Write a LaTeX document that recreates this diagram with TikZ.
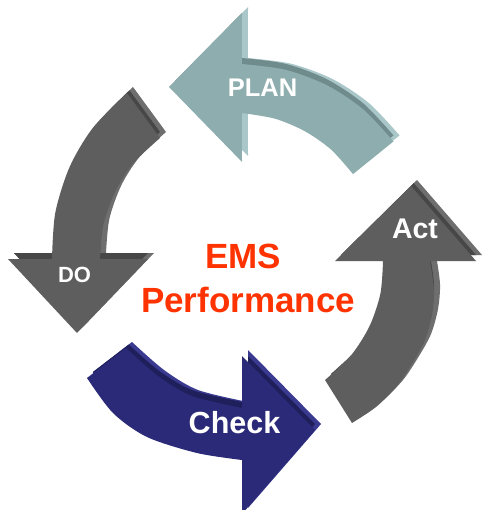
\documentclass[tikz,border=0pt]{standalone}
\usepackage{fontspec}
\setmainfont{Liberation Sans}
\definecolor{planface}{HTML}{8EADAE}
\definecolor{planlight}{HTML}{A9C6C8}
\definecolor{plandark}{HTML}{6F8B8C}
\definecolor{grayface}{HTML}{5E5E5E}
\definecolor{graylight}{HTML}{6E6E6E}
\definecolor{graydark}{HTML}{474747}
\definecolor{checkface}{HTML}{2A2A78}
\definecolor{checklight}{HTML}{3A3A90}
\definecolor{checkdark}{HTML}{1F1F5C}
\definecolor{emsred}{HTML}{FF3300}
\def\PlanPath{(169,87) -- (242,13) -- plot[smooth] coordinates {(241.9,64.0) (285.4,69.8) (326.6,85.1) (362.9,109.1) (393.5,141.4)} -- plot[smooth] coordinates {(353,174.1) (331.2,149.7) (305,131.3) (275,118.7) (241.9,113)} -- (242,162) -- cycle}
\def\DoPath{(77,333) -- (8,259) -- plot[smooth] coordinates {(52,259) (55.3,212.7) (69.7,166.8) (92.9,127.8) (127,93)} -- plot[smooth] coordinates {(160,138) (133.5,163) (115.4,191.1) (103.4,224.7) (100,259)} -- (148,259) -- cycle}
\def\CheckPath{(87,378) -- plot[smooth] coordinates {(126,348) (158,376) (192,396) (242,408)} -- (242,356) -- (315,430) -- (242,514) -- plot[smooth] coordinates {(242,460) (197,453) (147,437) (113,413) (87,378)} -- cycle}
\def\ActPath{(335,261) -- (411,186) -- (476,261) -- plot[smooth] coordinates {(430,261) (434,290) (432,315) (425,340) (413,362) (397,386) (376,407) (352,423)} -- plot[smooth] coordinates {(325,380) (351,355.4) (369.5,326.2) (380.4,293.7) (383,261)} -- cycle}
\newcommand\solidarrow[4]{%
  \fill[#3,shift={(6,-6)}] #1;
  \begin{scope}
    \clip[shift={(6,-6)}] #1;
    \fill[#4,shift={(0,-6)}] #1;
  \end{scope}
  \fill[#2] #1;
}
\tikzset{
  lbl/.style={text=white, anchor=base, inner sep=0pt},
  emstext/.style={text=emsred, anchor=base, inner sep=0pt, font=\bfseries\fontsize{35}{42}\selectfont}
}
\begin{document}
\begin{tikzpicture}[x=1pt,y=-1pt]
  \fill[white] (0,0) rectangle (482,510);
  \useasboundingbox (0,0) rectangle (482,510);
  \solidarrow{\PlanPath}{planface}{planlight}{plandark}
  \solidarrow{\DoPath}{grayface}{graylight}{graydark}
  \solidarrow{\CheckPath}{checkface}{checklight}{checkdark}
  \solidarrow{\ActPath}{grayface}{graylight}{graydark}
  \node[lbl, font=\bfseries\fontsize{25.5}{30}\selectfont] (plan) at (262.5,97) {PLAN};
  \node[lbl, font=\bfseries\fontsize{22}{26}\selectfont] (do) at (74.5,282) {DO};
  \node[lbl, font=\bfseries\fontsize{30.5}{36}\selectfont] (check) at (234.5,433) {Check};
  \node[lbl, font=\bfseries\fontsize{28.5}{34}\selectfont] (act) at (415,238) {Act};
  \node[emstext] (ems) at (243,268) {EMS};
  \node[emstext] (perf) at (248,312) {Performance};
\end{tikzpicture}
\end{document}
